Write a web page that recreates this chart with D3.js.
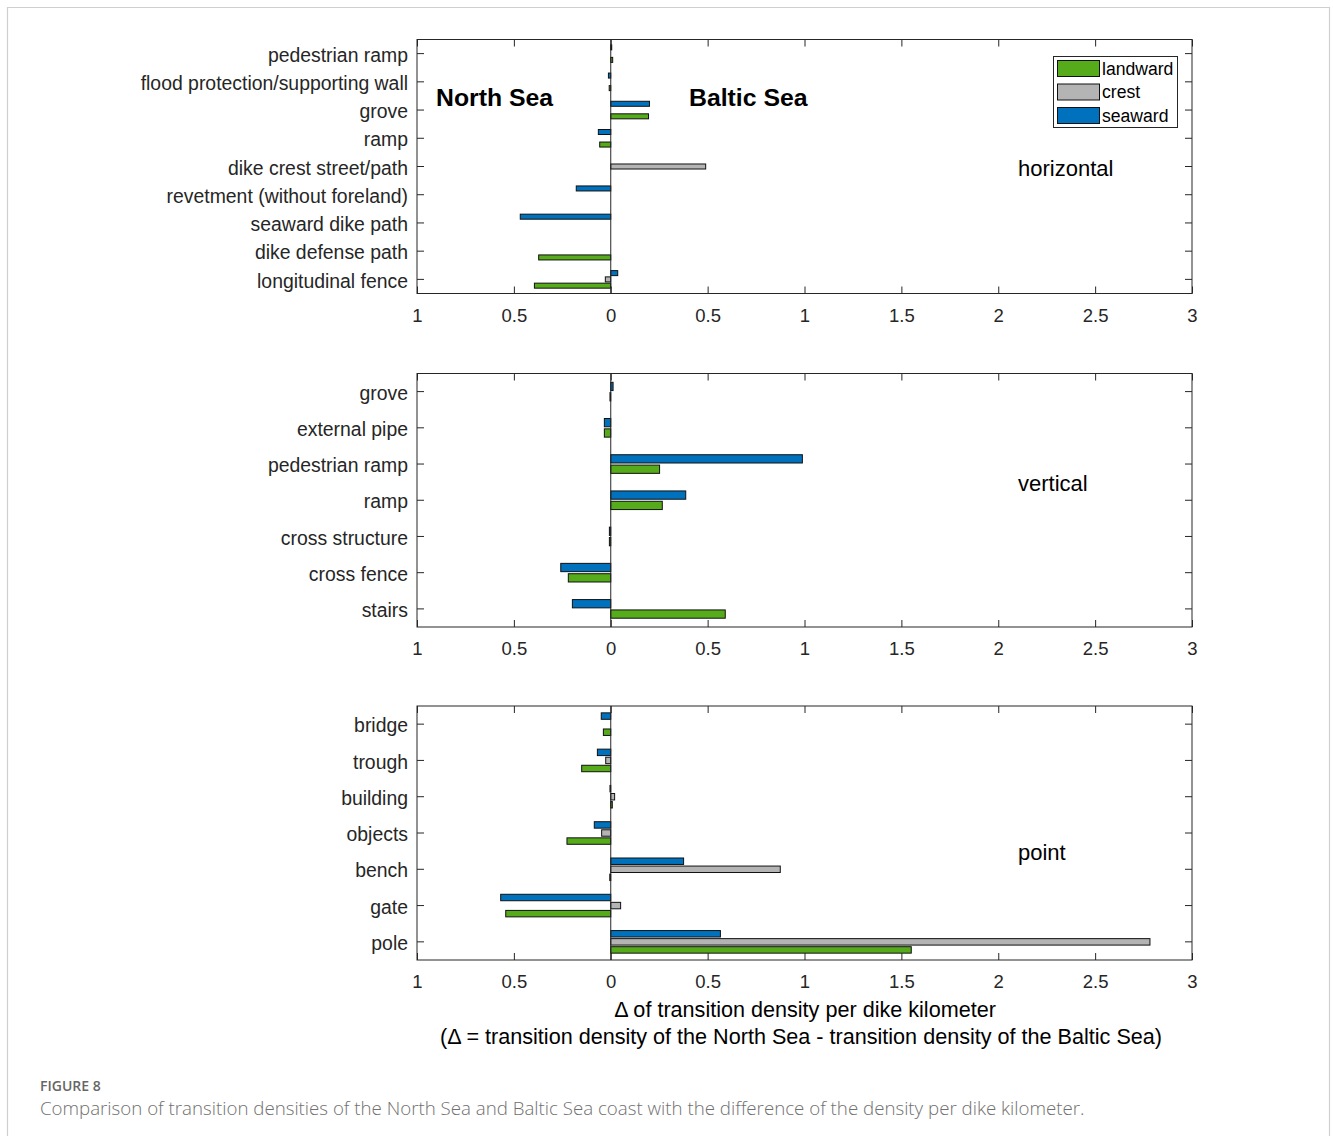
<!DOCTYPE html>
<html>
<head>
<meta charset="utf-8">
<script src="https://cdn.jsdelivr.net/npm/d3@7"></script>
<style>
body{margin:0;background:#fff;}
svg{display:block;}
</style>
</head>
<body>
<script>
// ---------- data ----------
const seriesNames = ["seaward", "crest", "landward"];
const seriesColors = {seaward: "#0072bd", crest: "#b4b4b4", landward: "#55ab1a"};
const legendOrder = ["landward", "crest", "seaward"];

const xTicks = [-1, -0.5, 0, 0.5, 1, 1.5, 2, 2.5, 3];

const hCats = ["pedestrian ramp", "flood protection/supporting wall", "grove", "ramp", "dike crest street/path", "revetment (without foreland)", "seaward dike path", "dike defense path", "longitudinal fence"];
const hSeaward  = [0.005, -0.012, 0.200, -0.064, 0, -0.178, -0.467, 0, 0.036];
const hCrest    = [0, 0, 0, 0, 0.490, 0, 0, 0, -0.028];
const hLandward = [0.010, -0.008, 0.195, -0.057, 0, 0, 0, -0.372, -0.394];

const vCats = ["grove", "external pipe", "pedestrian ramp", "ramp", "cross structure", "cross fence", "stairs"];
const vSeaward  = [0.012, -0.033, 0.989, 0.387, -0.007, -0.258, -0.198];
const vLandward = [-0.004, -0.033, 0.252, 0.266, -0.007, -0.219, 0.591];

const pCats = ["bridge", "trough", "building", "objects", "bench", "gate", "pole"];
const pSeaward  = [-0.049, -0.069, -0.004, -0.085, 0.376, -0.568, 0.566];
const pCrest    = [0, -0.026, 0.020, -0.047, 0.875, 0.051, 2.783];
const pLandward = [-0.038, -0.150, 0.008, -0.226, -0.005, -0.542, 1.551];

const panels = [
  {name: "horizontal", cats: hCats, series: {seaward: hSeaward, crest: hCrest, landward: hLandward}, top: 39.5, bottom: 293.5, labelY: 168},
  {name: "vertical", cats: vCats, series: {seaward: vSeaward, landward: vLandward}, top: 373.5, bottom: 627, labelY: 483},
  {name: "point", cats: pCats, series: {seaward: pSeaward, crest: pCrest, landward: pLandward}, top: 706, bottom: 960, labelY: 852}
];

// ---------- drawing ----------
const W = 1333, H = 1136;
const font = "'Liberation Sans', Arial, Helvetica, sans-serif";
const ink = "#262626";
const svg = d3.select("body").append("svg").attr("width", W).attr("height", H);

// card border
svg.append("path").attr("d", `M7.5,${H} V7.5 H1329.5 V${H}`).attr("fill", "none").attr("stroke", "#cfcfcf").attr("stroke-width", 1.2);

const x = d3.scaleLinear().domain([-1, 3]).range([417, 1192]);

panels.forEach(p => {
  const g = svg.append("g");
  const names = seriesNames.filter(s => p.series[s]);
  const n = names.length;
  const y = d3.scaleBand().domain(p.cats).range([p.top, p.bottom]).padding(0);
  const step = y.step();
  const groupW = Math.min(0.8, n / (n + 1.5));
  const barH = groupW / n * 0.8 * step;

  // bars
  names.forEach((s, i) => {
    const off = (i - (n - 1) / 2) * groupW / n * step;
    const vals = p.series[s];
    g.selectAll(null).data(p.cats.map((c, k) => ({c, v: vals[k]})).filter(d => d.v !== 0))
      .enter().append("rect")
      .attr("x", d => Math.min(x(0), x(d.v)))
      .attr("width", d => Math.abs(x(d.v) - x(0)))
      .attr("y", d => y(d.c) + step / 2 + off - barH / 2)
      .attr("height", barH)
      .attr("fill", seriesColors[s])
      .attr("stroke", "#111")
      .attr("stroke-width", 1);
  });

  // zero baseline
  g.append("line").attr("x1", x(0)).attr("x2", x(0)).attr("y1", p.top).attr("y2", p.bottom)
    .attr("stroke", ink).attr("stroke-width", 1);

  // x axis (bottom, inward ticks)
  const xa = g.append("g").attr("transform", `translate(0,${p.bottom})`)
    .call(d3.axisBottom(x).tickValues(xTicks).tickSize(-7).tickPadding(15)
      .tickFormat(d => d3.format("")(Math.abs(d))));
  xa.select(".domain").remove();
  xa.selectAll("line").attr("stroke", ink);
  xa.selectAll("text").attr("font-family", font).attr("font-size", 18.5).attr("fill", ink);

  // top ticks
  const xt = g.append("g").attr("transform", `translate(0,${p.top})`)
    .call(d3.axisTop(x).tickValues(xTicks).tickSize(-7).tickFormat(""));
  xt.select(".domain").remove();
  xt.selectAll("line").attr("stroke", ink);

  // y axis left with labels
  const ya = g.append("g").attr("transform", `translate(417,0)`)
    .call(d3.axisLeft(y).tickSize(-7).tickPadding(9));
  ya.select(".domain").remove();
  ya.selectAll("line").attr("stroke", ink);
  ya.selectAll("text").attr("font-family", font).attr("font-size", 19.4).attr("fill", ink).attr("dy", "0.42em");

  // y axis right ticks
  const yr = g.append("g").attr("transform", `translate(1192,0)`)
    .call(d3.axisRight(y).tickSize(-7).tickFormat(""));
  yr.select(".domain").remove();
  yr.selectAll("line").attr("stroke", ink);

  // box
  g.append("rect").attr("x", 417).attr("y", p.top).attr("width", 1192 - 417).attr("height", p.bottom - p.top)
    .attr("fill", "none").attr("stroke", ink).attr("stroke-width", 1);

  // panel label
  g.append("text").attr("x", 1018).attr("y", p.labelY).attr("dominant-baseline", "central")
    .attr("font-family", font).attr("font-size", 22).attr("fill", "#000").text(p.name);
});

// region titles
svg.append("text").attr("x", 436).attr("y", 97).attr("dominant-baseline", "central")
  .attr("font-family", font).attr("font-size", 24.8).attr("font-weight", "bold").attr("fill", "#000").text("North Sea");
svg.append("text").attr("x", 689).attr("y", 97).attr("dominant-baseline", "central")
  .attr("font-family", font).attr("font-size", 24.8).attr("font-weight", "bold").attr("fill", "#000").text("Baltic Sea");

// legend
const lg = svg.append("g");
lg.append("rect").attr("x", 1053.5).attr("y", 56.5).attr("width", 124).attr("height", 71)
  .attr("fill", "#fff").attr("stroke", ink).attr("stroke-width", 1);
legendOrder.forEach((s, i) => {
  const cy = 68.5 + i * 23.5;
  lg.append("rect").attr("x", 1057.5).attr("y", cy - 8).attr("width", 42).attr("height", 16)
    .attr("fill", seriesColors[s]).attr("stroke", "#111").attr("stroke-width", 1);
  lg.append("text").attr("x", 1102).attr("y", cy).attr("dominant-baseline", "central")
    .attr("font-family", font).attr("font-size", 17.6).attr("fill", "#000").text(s);
});

// x-axis label
svg.append("text").attr("x", 805).attr("y", 1009).attr("text-anchor", "middle").attr("dominant-baseline", "central")
  .attr("font-family", font).attr("font-size", 21.6).attr("fill", "#000").text("\u0394 of transition density per dike kilometer");
svg.append("text").attr("x", 801).attr("y", 1036).attr("text-anchor", "middle").attr("dominant-baseline", "central")
  .attr("font-family", font).attr("font-size", 21.6).attr("fill", "#000").text("(\u0394 = transition density of the North Sea - transition density of the Baltic Sea)");

// caption
svg.append("text").attr("x", 40).attr("y", 1085.5).attr("dominant-baseline", "central")
  .attr("font-family", "'Open Sans', sans-serif").attr("font-size", 14).attr("font-weight", 600).attr("fill", "#666").text("FIGURE 8");
svg.append("text").attr("x", 40).attr("y", 1107).attr("dominant-baseline", "central")
  .attr("font-family", "'Open Sans', sans-serif").attr("font-size", 18.7).attr("font-weight", 300).attr("fill", "#707070")
  .text("Comparison of transition densities of the North Sea and Baltic Sea coast with the difference of the density per dike kilometer.");
</script>
</body>
</html>
